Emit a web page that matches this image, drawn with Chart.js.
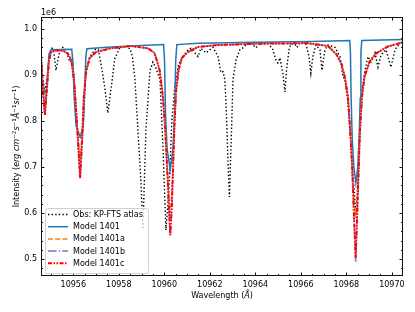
<!DOCTYPE html>
<html>
<head>
<meta charset="utf-8">
<script src="https://cdn.jsdelivr.net/npm/chart.js@4.4.1/dist/chart.umd.min.js"></script>
<style>
  html, body { margin: 0; padding: 0; background: #fff; }
  canvas { display: block; }
</style>
</head>
<body>
<canvas id="spectrum" width="415" height="312"></canvas>
<script>
// intensities are in units of 1e6 erg cm^-2 s^-1 A^-1 sr^-1
const obsWave = [
  10954.58, 10954.66, 10954.75, 10954.84, 10954.93, 10955.06, 10955.13, 10955.24, 10955.37, 10955.54,
  10955.67, 10955.85, 10955.93, 10956.03, 10956.16, 10956.29, 10956.42, 10956.55, 10956.73, 10956.95,
  10957.10, 10957.21, 10957.38, 10957.52, 10957.67, 10957.82, 10958.04, 10958.27, 10958.49, 10958.60,
  10958.71, 10958.84, 10958.97, 10959.06, 10959.19, 10959.37, 10959.50, 10959.63, 10959.81, 10959.94,
  10960.07, 10960.16, 10960.25, 10960.33, 10960.47, 10960.64, 10960.82, 10961.04, 10961.17, 10961.48,
  10961.61, 10961.83, 10962.14, 10962.36, 10962.49, 10962.58, 10962.66, 10962.73, 10962.80, 10962.86,
  10962.93, 10963.02, 10963.15, 10963.32, 10963.45, 10963.59, 10963.81, 10964.03, 10964.20, 10964.55,
  10964.77, 10964.91, 10964.99, 10965.08, 10965.21, 10965.30, 10965.37, 10965.48, 10965.56, 10965.74,
  10965.83, 10965.96, 10966.22, 10966.36, 10966.44, 10966.53, 10966.66, 10966.84, 10966.93, 10967.06,
  10967.19, 10967.50, 10967.72, 10967.85, 10967.94, 10968.07, 10968.20, 10968.33, 10968.42, 10968.51,
  10968.64, 10968.82, 10968.95, 10969.08, 10969.26, 10969.39, 10969.52, 10969.74, 10969.96, 10970.14,
  10970.36, 10970.49
];
const obsFlux = [
  0.935, 0.890, 0.865, 0.890, 0.935, 0.958, 0.955, 0.910, 0.945, 0.960,
  0.955, 0.928, 0.935, 0.900, 0.800, 0.685, 0.780, 0.900, 0.940, 0.955,
  0.955, 0.926, 0.874, 0.817, 0.874, 0.935, 0.959, 0.962, 0.957, 0.940,
  0.890, 0.780, 0.670, 0.565, 0.780, 0.910, 0.928, 0.915, 0.890, 0.743,
  0.563, 0.620, 0.700, 0.800, 0.880, 0.925, 0.940, 0.955, 0.958, 0.940,
  0.958, 0.948, 0.960, 0.940, 0.905, 0.907, 0.890, 0.817, 0.709, 0.635,
  0.743, 0.890, 0.932, 0.955, 0.959, 0.965, 0.970, 0.959, 0.970, 0.970,
  0.955, 0.932, 0.926, 0.937, 0.904, 0.863, 0.910, 0.955, 0.967, 0.967,
  0.960, 0.970, 0.967, 0.940, 0.904, 0.940, 0.965, 0.955, 0.910, 0.955,
  0.965, 0.960, 0.940, 0.896, 0.890, 0.840, 0.750, 0.660, 0.596, 0.670,
  0.850, 0.910, 0.940, 0.928, 0.948, 0.917, 0.943, 0.955, 0.917, 0.955,
  0.970, 0.972
];

const wave1401 = [
  10954.58, 10954.66, 10954.75, 10954.84, 10954.93, 10955.02, 10955.93, 10955.98, 10956.04, 10956.12,
  10956.30, 10956.44, 10956.50, 10956.55, 10956.60, 10957.50, 10958.50, 10959.97, 10960.01, 10960.05,
  10960.12, 10960.26, 10960.38, 10960.45, 10960.50, 10960.55, 10961.50, 10964.00, 10966.50, 10968.15,
  10968.18, 10968.21, 10968.26, 10968.33, 10968.42, 10968.50, 10968.56, 10968.61, 10968.64, 10968.68,
  10970.49
];
const flux1401 = [
  0.945, 0.875, 0.815, 0.880, 0.945, 0.955, 0.956, 0.930, 0.850, 0.790,
  0.765, 0.790, 0.870, 0.940, 0.957, 0.960, 0.963, 0.966, 0.930, 0.820,
  0.740, 0.693, 0.740, 0.820, 0.930, 0.966, 0.969, 0.971, 0.973, 0.975,
  0.950, 0.850, 0.760, 0.700, 0.665, 0.700, 0.760, 0.850, 0.950, 0.975,
  0.977
];

// shared wavelength grid of the 1401a / 1401b / 1401c models
const waveModels = [
  10954.58, 10954.66, 10954.75, 10954.84, 10954.93, 10955.02, 10955.24, 10955.54, 10955.75, 10955.91,
  10956.03, 10956.13, 10956.20, 10956.30, 10956.39, 10956.46, 10956.57, 10956.72, 10957.01, 10957.65,
  10958.53, 10959.28, 10959.57, 10959.79, 10959.94, 10960.04, 10960.13, 10960.20, 10960.26, 10960.33,
  10960.39, 10960.45, 10960.52, 10960.63, 10960.77, 10961.04, 10961.48, 10962.36, 10964.20, 10966.31,
  10967.19, 10967.56, 10967.78, 10967.93, 10968.07, 10968.17, 10968.26, 10968.33, 10968.41, 10968.48,
  10968.54, 10968.60, 10968.69, 10968.80, 10969.02, 10969.31, 10969.83, 10970.49
];
const flux1401a = [
  0.940, 0.870, 0.813, 0.870, 0.930, 0.950, 0.953, 0.953, 0.947, 0.933,
  0.889, 0.817, 0.775, 0.710, 0.775, 0.852, 0.911, 0.937, 0.950, 0.958,
  0.963, 0.958, 0.948, 0.911, 0.852, 0.780, 0.693, 0.640, 0.600, 0.640,
  0.709, 0.796, 0.867, 0.911, 0.937, 0.950, 0.961, 0.965, 0.968, 0.969,
  0.963, 0.945, 0.925, 0.896, 0.853, 0.780, 0.693, 0.630, 0.590, 0.630,
  0.693, 0.780, 0.853, 0.896, 0.929, 0.947, 0.962, 0.971
];
const flux1401b = [
  0.940, 0.870, 0.813, 0.870, 0.930, 0.950, 0.953, 0.953, 0.947, 0.933,
  0.889, 0.817, 0.760, 0.674, 0.760, 0.852, 0.911, 0.937, 0.950, 0.958,
  0.963, 0.958, 0.948, 0.911, 0.852, 0.780, 0.693, 0.613, 0.549, 0.613,
  0.709, 0.796, 0.867, 0.911, 0.937, 0.950, 0.961, 0.965, 0.968, 0.969,
  0.963, 0.945, 0.925, 0.896, 0.853, 0.780, 0.693, 0.600, 0.494, 0.600,
  0.693, 0.780, 0.853, 0.896, 0.929, 0.947, 0.962, 0.971
];
const flux1401c = [
  0.940, 0.870, 0.813, 0.870, 0.930, 0.950, 0.953, 0.953, 0.947, 0.933,
  0.889, 0.817, 0.760, 0.676, 0.760, 0.852, 0.911, 0.937, 0.950, 0.958,
  0.963, 0.958, 0.948, 0.911, 0.852, 0.780, 0.693, 0.613, 0.552, 0.613,
  0.709, 0.796, 0.867, 0.911, 0.937, 0.950, 0.961, 0.965, 0.968, 0.969,
  0.963, 0.945, 0.925, 0.896, 0.853, 0.780, 0.693, 0.600, 0.502, 0.600,
  0.693, 0.780, 0.853, 0.896, 0.929, 0.947, 0.962, 0.971
];

const seriesLabels = ['Obs: KP-FTS atlas', 'Model 1401', 'Model 1401a', 'Model 1401b', 'Model 1401c'];
const xRange = [10954.58, 10970.49];
const yRange = [0.463, 1.026];

const FONT = '"DejaVu Sans", sans-serif';
const pts = (xs, ys) => xs.map((x, i) => ({ x: x, y: ys[i] }));

// inward ticks on all four sides + the axes box
const frameTicks = {
  id: 'frameTicks',
  afterDatasetsDraw(chart) {
    const { ctx, chartArea: a, scales: { x, y } } = chart;
    ctx.save();
    ctx.strokeStyle = '#111';
    ctx.lineWidth = 1;
    ctx.beginPath();
    for (let i = Math.ceil(x.min / 0.5); i * 0.5 <= x.max; i++) {
      const px = Math.round(x.getPixelForValue(i * 0.5)) + 0.5;
      const len = i % 4 === 0 ? 3.5 : 2;
      ctx.moveTo(px, a.bottom); ctx.lineTo(px, a.bottom - len);
      ctx.moveTo(px, a.top); ctx.lineTo(px, a.top + len);
    }
    for (let i = Math.ceil(y.min / 0.02 - 1e-9); i * 0.02 <= y.max + 1e-9; i++) {
      const py = Math.round(y.getPixelForValue(i * 0.02)) + 0.5;
      const len = i % 5 === 0 ? 3.5 : 2;
      ctx.moveTo(a.left, py); ctx.lineTo(a.left + len, py);
      ctx.moveTo(a.right, py); ctx.lineTo(a.right - len, py);
    }
    ctx.stroke();
    ctx.strokeRect(a.left + 0.5, a.top + 0.5, a.right - a.left - 1, a.bottom - a.top - 1);
    ctx.restore();
  }
};

function drawRich(ctx, parts, cx, cy, vertical) {
  let total = 0;
  parts.forEach(p => { ctx.font = p.f; p.w = ctx.measureText(p.t).width; total += p.w; });
  ctx.save();
  ctx.translate(cx, cy);
  if (vertical) ctx.rotate(-Math.PI / 2);
  ctx.fillStyle = '#000';
  ctx.textBaseline = 'alphabetic';
  ctx.textAlign = 'left';
  let pos = -total / 2;
  parts.forEach(p => { ctx.font = p.f; ctx.fillText(p.t, pos, p.sup ? -0.5 : 3); pos += p.w; });
  ctx.restore();
}

// axis titles, offset text and the legend box
const annotations = {
  id: 'annotations',
  afterDraw(chart) {
    const { ctx, chartArea: a } = chart;
    const rm = '8px ' + FONT, it = 'italic 8px ' + FONT, sp = '5.6px ' + FONT;

    drawRich(ctx, [
      { t: 'Wavelength (', f: rm }, { t: 'Å', f: it }, { t: ')', f: rm }
    ], (a.left + a.right) / 2, 295, false);

    drawRich(ctx, [
      { t: 'Intensity (', f: rm }, { t: 'erg cm', f: it }, { t: '−2', f: sp, sup: true },
      { t: 's', f: it }, { t: '−1', f: sp, sup: true }, { t: 'Å', f: it },
      { t: '−1', f: sp, sup: true }, { t: 'sr', f: it }, { t: '−1', f: sp, sup: true },
      { t: ')', f: rm }
    ], 16, (a.top + a.bottom) / 2, true);

    ctx.save();
    ctx.font = rm;
    ctx.fillStyle = '#000';
    ctx.textBaseline = 'alphabetic';
    ctx.fillText('1e6', a.left, 15);

    // legend
    const sets = chart.data.datasets;
    let maxW = 0;
    sets.forEach(d => { maxW = Math.max(maxW, ctx.measureText(d.label).width); });
    const bx = a.left + 4, bw = 28 + maxW + 5, bh = 65, by = a.bottom - 3 - bh;
    ctx.beginPath();
    ctx.roundRect(bx + 0.5, by + 0.5, bw, bh, 2);
    ctx.fillStyle = 'rgba(255,255,255,0.8)';
    ctx.fill();
    ctx.strokeStyle = '#d0d0d0';
    ctx.lineWidth = 1;
    ctx.stroke();
    sets.forEach((d, i) => {
      const ry = by + 6.5 + i * 12.2;
      ctx.beginPath();
      ctx.setLineDash(d.borderDash || []);
      ctx.strokeStyle = d.borderColor;
      ctx.lineWidth = d.borderWidth;
      ctx.moveTo(bx + 3, ry); ctx.lineTo(bx + 23, ry);
      ctx.stroke();
      ctx.setLineDash([]);
      ctx.fillStyle = '#000';
      ctx.textBaseline = 'middle';
      ctx.fillText(d.label, bx + 28, ry + 0.5);
    });
    ctx.restore();
  }
};

new Chart(document.getElementById('spectrum'), {
  type: 'line',
  data: {
    datasets: [
      { label: seriesLabels[0], data: pts(obsWave, obsFlux), borderColor: '#000000', borderWidth: 1.4, borderDash: [1.4, 2.2], order: 5 },
      { label: seriesLabels[1], data: pts(wave1401, flux1401), borderColor: '#1f77b4', borderWidth: 1.5, order: 4 },
      { label: seriesLabels[2], data: pts(waveModels, flux1401a), borderColor: '#ff7f0e', borderWidth: 1.5, borderDash: [5, 2.2], order: 3 },
      { label: seriesLabels[3], data: pts(waveModels, flux1401b), borderColor: '#9467bd', borderWidth: 1.5, borderDash: [8.5, 2.2, 1.4, 2.2], order: 2 },
      { label: seriesLabels[4], data: pts(waveModels, flux1401c), borderColor: '#ff0000', borderWidth: 2, borderDash: [4, 1.5, 1.5, 1.5, 1.5, 1.5], order: 1 }
    ]
  },
  options: {
    responsive: false,
    animation: false,
    devicePixelRatio: 1,
    layout: { padding: { top: 17, right: 12, left: 0, bottom: 0 } },
    elements: { point: { radius: 0 }, line: { tension: 0, fill: false } },
    plugins: { legend: { display: false }, tooltip: { enabled: false } },
    scales: {
      x: {
        type: 'linear',
        min: xRange[0], max: xRange[1],
        grid: { display: false, drawTicks: false }, border: { display: false },
        ticks: {
          stepSize: 2, includeBounds: false, autoSkip: false, maxRotation: 0,
          padding: 4, color: '#000', font: { family: FONT, size: 8 },
          callback: v => String(Math.round(v))
        },
        afterFit: s => { s.height = 36; }
      },
      y: {
        min: yRange[0], max: yRange[1],
        grid: { display: false, drawTicks: false }, border: { display: false },
        ticks: {
          stepSize: 0.1, includeBounds: false,
          padding: 4, color: '#000', font: { family: FONT, size: 8 },
          callback: v => v.toFixed(1)
        },
        afterFit: s => { s.width = 41; }
      }
    }
  },
  plugins: [frameTicks, annotations]
});
</script>
</body>
</html>
